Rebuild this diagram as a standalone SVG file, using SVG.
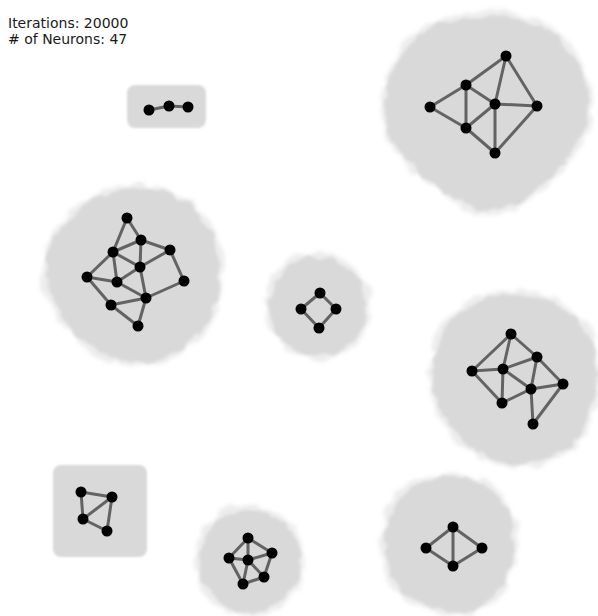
<svg xmlns="http://www.w3.org/2000/svg" width="598" height="616" viewBox="0 0 598 616">
<style>
.bg{fill:#ffffff}
.blob{fill:#d9d9d9;filter:url(#rough)}
.halo{fill:#d9d9d9;stroke:#d9d9d9;stroke-width:8;opacity:0.5;filter:url(#rough2)}
.box{fill:#d9d9d9;filter:url(#soft)}
.e{stroke:#636363;stroke-width:3;stroke-linecap:round;fill:none}
.n{fill:#000000}
.t{font-family:"DejaVu Sans",sans-serif;font-size:14px;fill:#1a1a1a}
</style>
<defs>
<filter id="rough" x="-20%" y="-20%" width="140%" height="140%">
<feTurbulence type="fractalNoise" baseFrequency="0.07" numOctaves="2" seed="3" result="noise"/>
<feDisplacementMap in="SourceGraphic" in2="noise" scale="10" xChannelSelector="R" yChannelSelector="G" result="d"/>
<feGaussianBlur in="d" stdDeviation="1.5"/>
</filter>
<filter id="rough2" x="-20%" y="-20%" width="140%" height="140%">
<feTurbulence type="fractalNoise" baseFrequency="0.06" numOctaves="2" seed="11" result="noise"/>
<feDisplacementMap in="SourceGraphic" in2="noise" scale="14" xChannelSelector="R" yChannelSelector="G" result="d"/>
<feGaussianBlur in="d" stdDeviation="2"/>
</filter>
<filter id="soft" x="-10%" y="-10%" width="120%" height="120%">
<feGaussianBlur stdDeviation="0.8"/>
</filter>
<path id="p1" d="M 430,28 C 460,14 520,12 548,30 C 575,48 592,85 588,115 C 585,145 560,170 530,195 C 508,214 478,216 458,200 C 430,180 400,160 390,135 C 380,110 385,80 400,58 C 410,44 420,34 430,28 Z"/>
<path id="p3" d="M 123,190 C 150,186 175,192 195,210 C 215,230 222,255 220,280 C 218,305 210,325 192,340 C 175,355 155,364 135,362 C 110,360 85,345 68,325 C 52,305 44,285 46,265 C 48,245 58,228 75,215 C 90,200 105,192 123,190 Z"/>
<circle id="p4" cx="318" cy="306" r="49"/>
<path id="p5" d="M 500,295 C 540,290 580,310 592,345 C 600,375 596,410 580,435 C 560,460 530,468 505,462 C 475,455 450,435 438,405 C 428,378 432,345 450,322 C 465,305 482,297 500,295 Z"/>
<circle id="p7" cx="250" cy="561" r="51"/>
<path id="p8" d="M 445,477 C 480,474 508,495 513,530 C 518,565 503,598 475,610 C 450,618 420,606 402,590 C 384,572 382,540 390,515 C 400,490 420,479 445,477 Z"/>
</defs>
<rect class="bg" x="0" y="0" width="598" height="616"/>
<g id="label">
<text class="t" x="8" y="28">Iterations: 20000</text>
<text class="t" x="8" y="44"># of Neurons: 47</text>
</g>
<g id="regions">
<g id="region-1"><use href="#p1" class="halo"/><use href="#p1" class="blob"/></g>
<rect id="region-2" class="box" x="127" y="85" width="79" height="43" rx="8"/>
<g id="region-3"><use href="#p3" class="halo"/><use href="#p3" class="blob"/></g>
<g id="region-4"><use href="#p4" class="halo"/><use href="#p4" class="blob"/></g>
<g id="region-5"><use href="#p5" class="halo"/><use href="#p5" class="blob"/></g>
<rect id="region-6" class="box" x="53" y="465" width="94" height="92" rx="8"/>
<g id="region-7"><use href="#p7" class="halo"/><use href="#p7" class="blob"/></g>
<g id="region-8"><use href="#p8" class="halo"/><use href="#p8" class="blob"/></g>
</g>
<g id="connectors">
<line class="e" x1="506" y1="56" x2="466" y2="85"/>
<line class="e" x1="506" y1="56" x2="495" y2="104"/>
<line class="e" x1="506" y1="56" x2="537" y2="106"/>
<line class="e" x1="466" y1="85" x2="430" y2="107"/>
<line class="e" x1="466" y1="85" x2="466" y2="128"/>
<line class="e" x1="466" y1="85" x2="495" y2="104"/>
<line class="e" x1="430" y1="107" x2="466" y2="128"/>
<line class="e" x1="495" y1="104" x2="466" y2="128"/>
<line class="e" x1="495" y1="104" x2="537" y2="106"/>
<line class="e" x1="495" y1="104" x2="495" y2="153"/>
<line class="e" x1="537" y1="106" x2="495" y2="153"/>
<line class="e" x1="466" y1="128" x2="495" y2="153"/>
<line class="e" x1="149" y1="110" x2="169" y2="106"/>
<line class="e" x1="169" y1="106" x2="188" y2="107"/>
<line class="e" x1="127" y1="218" x2="141" y2="240"/>
<line class="e" x1="127" y1="218" x2="113" y2="252"/>
<line class="e" x1="113" y1="252" x2="141" y2="240"/>
<line class="e" x1="141" y1="240" x2="170" y2="250"/>
<line class="e" x1="141" y1="240" x2="140" y2="267"/>
<line class="e" x1="113" y1="252" x2="140" y2="267"/>
<line class="e" x1="170" y1="250" x2="140" y2="267"/>
<line class="e" x1="170" y1="250" x2="184" y2="281"/>
<line class="e" x1="113" y1="252" x2="87" y2="277"/>
<line class="e" x1="113" y1="252" x2="117" y2="282"/>
<line class="e" x1="87" y1="277" x2="117" y2="282"/>
<line class="e" x1="87" y1="277" x2="111" y2="305"/>
<line class="e" x1="117" y1="282" x2="140" y2="267"/>
<line class="e" x1="140" y1="267" x2="146" y2="298"/>
<line class="e" x1="117" y1="282" x2="146" y2="298"/>
<line class="e" x1="184" y1="281" x2="146" y2="298"/>
<line class="e" x1="111" y1="305" x2="146" y2="298"/>
<line class="e" x1="111" y1="305" x2="138" y2="326"/>
<line class="e" x1="146" y1="298" x2="138" y2="326"/>
<line class="e" x1="320" y1="293" x2="301" y2="309"/>
<line class="e" x1="320" y1="293" x2="336" y2="309"/>
<line class="e" x1="301" y1="309" x2="319" y2="328"/>
<line class="e" x1="336" y1="309" x2="319" y2="328"/>
<line class="e" x1="511" y1="334" x2="472" y2="371"/>
<line class="e" x1="511" y1="334" x2="503" y2="369"/>
<line class="e" x1="511" y1="334" x2="537" y2="357"/>
<line class="e" x1="472" y1="371" x2="503" y2="369"/>
<line class="e" x1="503" y1="369" x2="537" y2="357"/>
<line class="e" x1="472" y1="371" x2="502" y2="403"/>
<line class="e" x1="503" y1="369" x2="502" y2="403"/>
<line class="e" x1="503" y1="369" x2="531" y2="389"/>
<line class="e" x1="537" y1="357" x2="531" y2="389"/>
<line class="e" x1="537" y1="357" x2="563" y2="384"/>
<line class="e" x1="531" y1="389" x2="563" y2="384"/>
<line class="e" x1="502" y1="403" x2="531" y2="389"/>
<line class="e" x1="531" y1="389" x2="533" y2="424"/>
<line class="e" x1="563" y1="384" x2="533" y2="424"/>
<line class="e" x1="81" y1="492" x2="112" y2="497"/>
<line class="e" x1="81" y1="492" x2="83" y2="519"/>
<line class="e" x1="83" y1="519" x2="112" y2="497"/>
<line class="e" x1="112" y1="497" x2="107" y2="531"/>
<line class="e" x1="83" y1="519" x2="107" y2="531"/>
<line class="e" x1="248" y1="538" x2="229" y2="558"/>
<line class="e" x1="248" y1="538" x2="248" y2="560"/>
<line class="e" x1="248" y1="538" x2="272" y2="553"/>
<line class="e" x1="229" y1="558" x2="248" y2="560"/>
<line class="e" x1="248" y1="560" x2="272" y2="553"/>
<line class="e" x1="229" y1="558" x2="243" y2="584"/>
<line class="e" x1="248" y1="560" x2="243" y2="584"/>
<line class="e" x1="248" y1="560" x2="264" y2="577"/>
<line class="e" x1="272" y1="553" x2="264" y2="577"/>
<line class="e" x1="243" y1="584" x2="264" y2="577"/>
<line class="e" x1="453" y1="527" x2="426" y2="548"/>
<line class="e" x1="453" y1="527" x2="482" y2="548"/>
<line class="e" x1="453" y1="527" x2="453" y2="566"/>
<line class="e" x1="426" y1="548" x2="453" y2="566"/>
<line class="e" x1="482" y1="548" x2="453" y2="566"/>
</g>
<g id="neurons">
<g id="c1-a"><circle class="n" cx="506" cy="56" r="5.5"/></g>
<g id="c1-b"><circle class="n" cx="466" cy="85" r="5.5"/></g>
<g id="c1-c"><circle class="n" cx="430" cy="107" r="5.5"/></g>
<g id="c1-d"><circle class="n" cx="495" cy="104" r="5.5"/></g>
<g id="c1-e"><circle class="n" cx="537" cy="106" r="5.5"/></g>
<g id="c1-f"><circle class="n" cx="466" cy="128" r="5.5"/></g>
<g id="c1-g"><circle class="n" cx="495" cy="153" r="5.5"/></g>
<g id="c2-a"><circle class="n" cx="149" cy="110" r="5.5"/></g>
<g id="c2-b"><circle class="n" cx="169" cy="106" r="5.5"/></g>
<g id="c2-c"><circle class="n" cx="188" cy="107" r="5.5"/></g>
<g id="c3-a"><circle class="n" cx="127" cy="218" r="5.5"/></g>
<g id="c3-b"><circle class="n" cx="141" cy="240" r="5.5"/></g>
<g id="c3-c"><circle class="n" cx="113" cy="252" r="5.5"/></g>
<g id="c3-d"><circle class="n" cx="170" cy="250" r="5.5"/></g>
<g id="c3-e"><circle class="n" cx="140" cy="267" r="5.5"/></g>
<g id="c3-f"><circle class="n" cx="87" cy="277" r="5.5"/></g>
<g id="c3-g"><circle class="n" cx="117" cy="282" r="5.5"/></g>
<g id="c3-h"><circle class="n" cx="184" cy="281" r="5.5"/></g>
<g id="c3-i"><circle class="n" cx="146" cy="298" r="5.5"/></g>
<g id="c3-j"><circle class="n" cx="111" cy="305" r="5.5"/></g>
<g id="c3-k"><circle class="n" cx="138" cy="326" r="5.5"/></g>
<g id="c4-a"><circle class="n" cx="320" cy="293" r="5.5"/></g>
<g id="c4-b"><circle class="n" cx="301" cy="309" r="5.5"/></g>
<g id="c4-c"><circle class="n" cx="336" cy="309" r="5.5"/></g>
<g id="c4-d"><circle class="n" cx="319" cy="328" r="5.5"/></g>
<g id="c5-a"><circle class="n" cx="511" cy="334" r="5.5"/></g>
<g id="c5-b"><circle class="n" cx="537" cy="357" r="5.5"/></g>
<g id="c5-c"><circle class="n" cx="472" cy="371" r="5.5"/></g>
<g id="c5-d"><circle class="n" cx="503" cy="369" r="5.5"/></g>
<g id="c5-e"><circle class="n" cx="531" cy="389" r="5.5"/></g>
<g id="c5-f"><circle class="n" cx="563" cy="384" r="5.5"/></g>
<g id="c5-g"><circle class="n" cx="502" cy="403" r="5.5"/></g>
<g id="c5-h"><circle class="n" cx="533" cy="424" r="5.5"/></g>
<g id="c6-a"><circle class="n" cx="81" cy="492" r="5.5"/></g>
<g id="c6-b"><circle class="n" cx="112" cy="497" r="5.5"/></g>
<g id="c6-c"><circle class="n" cx="83" cy="519" r="5.5"/></g>
<g id="c6-d"><circle class="n" cx="107" cy="531" r="5.5"/></g>
<g id="c7-a"><circle class="n" cx="248" cy="538" r="5.5"/></g>
<g id="c7-b"><circle class="n" cx="229" cy="558" r="5.5"/></g>
<g id="c7-c"><circle class="n" cx="248" cy="560" r="5.5"/></g>
<g id="c7-d"><circle class="n" cx="272" cy="553" r="5.5"/></g>
<g id="c7-e"><circle class="n" cx="264" cy="577" r="5.5"/></g>
<g id="c7-f"><circle class="n" cx="243" cy="584" r="5.5"/></g>
<g id="c8-a"><circle class="n" cx="453" cy="527" r="5.5"/></g>
<g id="c8-b"><circle class="n" cx="426" cy="548" r="5.5"/></g>
<g id="c8-c"><circle class="n" cx="482" cy="548" r="5.5"/></g>
<g id="c8-d"><circle class="n" cx="453" cy="566" r="5.5"/></g>
</g>
</svg>
